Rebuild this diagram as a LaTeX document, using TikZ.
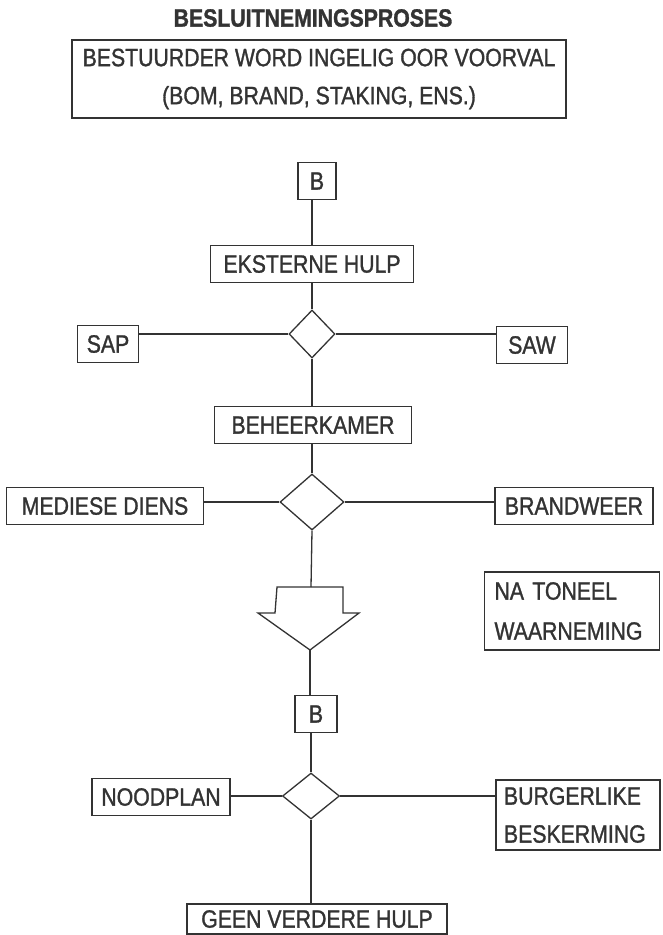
\documentclass[tikz,border=0pt]{standalone}
\usepackage{fontspec}
\setmainfont{Liberation Sans}[FakeStretch=0.85,FakeBold=1.2]
\usetikzlibrary{positioning,shapes.geometric,calc}
\newcommand{\blokfont}{\fontsize{25}{30}\selectfont}

\begin{document}
\begin{tikzpicture}[x=1pt,y=-1pt,line width=1.3pt,color=black!80,
  every node/.style={font=\blokfont},
  blok/.style={draw,inner xsep=9pt,inner ysep=0pt,minimum height=37pt},
  ruit/.style={draw,diamond,inner sep=0pt}]
\fill[white] (0,0) rectangle (662,935);
\useasboundingbox (0,0) rectangle (662,935);
% kop
\node[font=\blokfont\bfseries] (titel) at (313,18) {BESLUITNEMINGSPROSES};
\node[blok,align=center,minimum width=494pt,minimum height=78pt,
  font=\fontsize{25}{38}\selectfont] (voorval) at (319,79)
  {BESTUURDER WORD INGELIG OOR VOORVAL\\(BOM, BRAND, STAKING, ENS.)};
% eerste vlak
\node[blok,minimum width=38pt] (b1) at (317,181) {B};
\node[blok,minimum width=203pt] (eks) at (312,264) {EKSTERNE HULP};
\node[ruit,minimum width=46pt,minimum height=48pt] (d1) at (312,334) {};
\node[blok,minimum width=60pt] (sap) at (108,344) {SAP};
\node[blok,minimum width=71pt] (saw) at (532,345) {SAW};
% tweede vlak
\node[blok,minimum width=197pt] (beh) at (313,425) {BEHEERKAMER};
\node[ruit,minimum width=64pt,minimum height=56pt] (d2) at (312,502) {};
\node[blok,minimum width=197pt] (med) at (105,506) {MEDIESE DIENS};
\node[blok,minimum width=158pt] (brand) at (574,506) {BRANDWEER};
\node[blok,align=left,text width=155pt,inner xsep=10pt,minimum height=78pt,
  font=\fontsize{25}{40}\selectfont] (toneel) at (572,611) {NA TONEEL\\WAARNEMING};
\coordinate (pijltop) at (311,587);
\coordinate (pijlpunt) at (310,650);
% derde vlak
\node[blok,minimum width=42pt] (b2) at (316,714) {B};
\node[ruit,minimum width=57pt,minimum height=46pt] (d3) at (311,796) {};
\node[blok,minimum width=138pt] (nood) at (161,797) {NOODPLAN};
\node[blok,align=left,text width=148pt,inner xsep=8pt,minimum height=70pt,
  font=\fontsize{25}{38}\selectfont] (burg) at (578,815) {BURGERLIKE\\BESKERMING};
\node[blok,minimum width=260pt,minimum height=30pt] (geen) at (317,919) {GEEN VERDERE HULP};

\draw (b1.south -| d1) -- (eks.north -| d1);
\draw (eks.south -| d1) -- (d1.north);
\draw (d1.west) -- (d1.west -| sap.east);
\draw (d1.east) -- (d1.east -| saw.west);
\draw (d1.south) -- (d1.south |- beh.north);
\draw (beh.south -| d2) -- (d2.north);
\draw (d2.west) -- (d2.west -| med.east);
\draw (d2.east) -- (d2.east -| brand.west);
\draw (d2.south) -- (pijltop);
\draw (pijltop) ++(-34,0) -- ++(66,0) -- ++(0,26) -- ++(16,0) -- (pijlpunt)
  -- ++(-52,-37) -- ++(17,0) -- cycle;
\draw (pijlpunt) -- (b2.north -| pijlpunt);
\draw (b2.south -| d3) -- (d3.north);
\draw (d3.west) -- (d3.west -| nood.east);
\draw (d3.east) -- (d3.east -| burg.west);
\draw (d3.south) -- (geen.north -| d3);
\end{tikzpicture}
\end{document}
